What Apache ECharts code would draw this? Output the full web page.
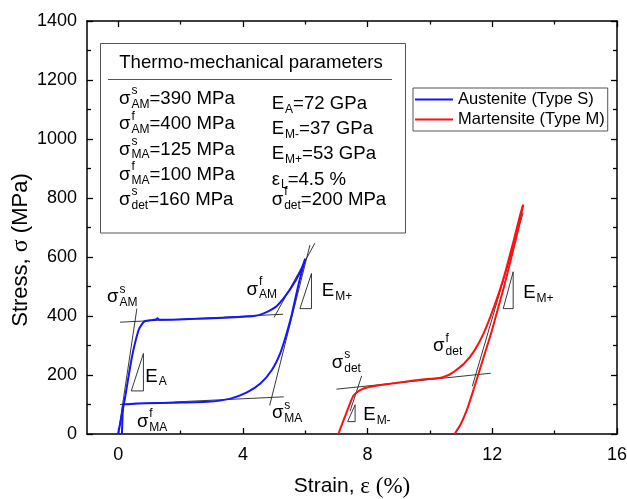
<!DOCTYPE html>
<html><head><meta charset="utf-8">
<script src="https://cdn.jsdelivr.net/npm/echarts@6/dist/echarts.min.js"></script>
<style>html,body{margin:0;padding:0;background:#fff}#c{width:627px;height:499px}</style>
</head><body><div id="c"></div>
<script>
const FONT = '"Liberation Sans", Arial, Helvetica, sans-serif';
const SERIF = '"Liberation Serif", "Times New Roman", serif';

// ---------- data ----------
const xTicksMajor = [0, 4, 8, 12, 16];
const xTicksMinor = [2, 6, 10, 14];
const seriesNames = ['Austenite (Type S)', 'Martensite (Type M)'];

const austeniteLoading = [[0,0],[0.22,123],[0.44,260],[0.65,351],[0.78,375],[0.87,383],[1.05,386],[1.2,388],[1.26,392],[1.32,387],[2.3,390],[3.4,394],[4.35,400],[4.67,409],[5.09,434],[5.52,491],[5.84,549],[6.0,594]];
const austeniteUnloading = [[6.0,594],[5.79,509],[5.57,406],[5.41,343],[5.2,274],[4.93,217],[4.56,171],[4.13,141],[3.6,120],[2.85,109],[1.8,106],[0.9,104],[0.3,101],[0.16,99],[0.14,60],[0.12,0]];
const martensiteLoading = [[7.06,0],[7.3,66],[7.54,129],[7.76,149],[8.08,160],[8.61,169],[9.2,177],[9.68,184],[10.35,191],[10.6,200],[10.77,211],[11.09,238],[11.41,280],[11.73,343],[12.05,429],[12.37,531],[12.69,657],[12.91,749],[12.99,777]];
const martensiteUnloading = [[12.99,777],[12.8,680],[12.59,589],[12.37,497],[12.16,417],[11.95,337],[11.68,246],[11.41,154],[11.2,86],[10.99,34],[10.79,0]];

// construction lines (strain %, stress MPa)
const tanAMs = [[0,0],[0.6,425]];
const plateauUpper = [[0.06,379],[5.29,406]];
const tanAMf = [[5.0,395],[6.31,647]];
const tanUnload = [[4.86,97],[6.15,640]];
const plateauLower = [[0.06,100],[5.31,126]];
const tanDets = [[7.44,78],[7.81,197]];
const plateauDet = [[7.0,152],[11.95,206]];
const tanDetf = [[11.36,162],[12.99,750]];
// slope triangles
const triEA = [[0.42,146],[0.81,146],[0.81,273],[0.42,146]];
const triEMpBlue = [[5.83,425],[6.2,425],[6.2,544],[5.83,425]];
const triEMpRed = [[12.35,425],[12.67,425],[12.67,550],[12.35,425]];
const triEMm = [[7.36,42],[7.6,42],[7.6,99],[7.36,42]];

// in-plot annotations: anchor (strain, stress) of main glyph's left/baseline
const annotationText = [
  ['σ',['s','AM']], ['σ',['f','AM']], ['E',[null,'M+']], ['E',[null,'A']], ['σ',['f','MA']],
  ['σ',['s','MA']], ['σ',['s','det']], ['E',[null,'M-']], ['σ',['f','det']], ['E',[null,'M+']]
];
const annotationAnchor = [[-0.36,443],[4.12,470],[6.53,464],[0.87,175],[0.6,21],[4.93,50],[6.85,221],[7.86,44],[10.1,277],[12.99,459]];

// parameter table
const paramTitle = 'Thermo-mechanical parameters';
const paramsLeft = [
  ['σ',['s','AM'],'=390 MPa'], ['σ',['f','AM'],'=400 MPa'], ['σ',['s','MA'],'=125 MPa'],
  ['σ',['f','MA'],'=100 MPa'], ['σ',['s','det'],'=160 MPa']
];
const paramsRight = [
  ['E',[null,'A'],'=72 GPa'], ['E',[null,'M-'],'=37 GPa'], ['E',[null,'M+'],'=53 GPa'],
  ['ε',[null,'L'],'=4.5 %'], ['σ',['f','det'],'=200 MPa']
];

// ---------- helpers ----------
const mctx = document.createElement('canvas').getContext('2d');
function tw(t, size){ mctx.font = size + 'px ' + FONT; return mctx.measureText(t).width; }
const MAIN = 18.6, SCR = 12, MID = 0.32;
function txt(x, yMid, t, size){
  return {type:'text', x:x, y:yMid, z:100, style:{text:t, fontSize:size, fontFamily:FONT, fill:'#000', align:'left', verticalAlign:'middle'}};
}
function richParts(x, base, parts){
  const out = []; let cx = x;
  parts.forEach(p => {
    if (typeof p === 'string') { out.push(txt(cx, base - MID*MAIN, p, MAIN)); cx += tw(p, MAIN); }
    else {
      const sup = p[0], sub = p[1]; let w = 0;
      if (sup) { out.push(txt(cx + 1, base - 10 - MID*SCR, sup, SCR)); w = Math.max(w, tw(sup, SCR) + 1); }
      if (sub) { out.push(txt(cx + 1, base + 3.5 - MID*SCR, sub, SCR)); w = Math.max(w, tw(sub, SCR) + 1); }
      cx += w;
    }
  });
  return out;
}
function guide(data){
  return {type:'line', data:data, symbol:'none', silent:true, lineStyle:{color:'#222', width:0.9}, z:3, animation:false};
}

// ---------- graphic (parameter box & y title) ----------
const graphics = [
  {type:'rect', shape:{x:100.5, y:43.5, width:305, height:189.5}, style:{fill:'#fff', stroke:'#555', lineWidth:1}, z:90},
  {type:'line', shape:{x1:108, y1:79.5, x2:392, y2:79.5}, style:{stroke:'#555', lineWidth:1}, z:91},
  {type:'text', x:251, y:69.3 - MID*MAIN, z:100, style:{text:paramTitle, fontSize:MAIN, fontFamily:FONT, fill:'#000', align:'center', verticalAlign:'middle'}},
  {type:'text', x:21, y:250, rotation:Math.PI/2, z:100, style:{text:'Stress, {s|σ} (MPa)', fontSize:22, fontFamily:FONT, fill:'#000', align:'center', verticalAlign:'middle', rich:{s:{fontFamily:SERIF, fontSize:24, fill:'#000'}}}}
];
const leftBase = [105, 130.3, 155.5, 180.8, 206];
const rightBase = [110, 135, 160, 185.5, 206];
paramsLeft.forEach((r,i) => richParts(119, leftBase[i], r).forEach(g => graphics.push(g)));
paramsRight.forEach((r,i) => richParts(271.7, rightBase[i], r).forEach(g => graphics.push(g)));

// ---------- chart ----------
const chart = echarts.init(document.getElementById('c'), null, {renderer:'canvas'});
const axisLine = {show:true, onZero:false, lineStyle:{color:'#000', width:1.5}};
const noLine = {show:false, onZero:false};
const tickStyle = {color:'#000', width:1.3};
const xBase = {type:'value', min:-1, max:16, splitLine:{show:false}, gridIndex:0};
const yBase = {type:'value', min:0, max:1400, interval:200, splitLine:{show:false}, gridIndex:0,
  axisTick:{show:true, inside:true, length:6, lineStyle:tickStyle},
  minorTick:{show:true, splitNumber:2, length:4, lineStyle:tickStyle}};
chart.setOption({
  animation:false,
  backgroundColor:'#fff',
  grid:{left:87, right:10, top:21, bottom:65, containLabel:false, outerBoundsMode:'none'},
  legend:{
    data:seriesNames.map(n => ({name:n, icon:'rect'})), orient:'vertical', left:413, top:88,
    itemWidth:38, itemHeight:2, itemGap:3, padding:[3,3,3,2],
    borderColor:'#555', borderWidth:1, backgroundColor:'#fff',
    textStyle:{fontSize:16.5, fontFamily:FONT, color:'#000', lineHeight:17}
  },
  xAxis:[
    Object.assign({}, xBase, {position:'bottom', axisLine:axisLine,
      axisTick:{show:true, inside:true, length:6, customValues:xTicksMajor, lineStyle:tickStyle},
      axisLabel:{show:true, customValues:xTicksMajor, fontSize:18, fontFamily:FONT, color:'#000', margin:12},
      name:'Strain, {s|ε (%)}', nameLocation:'middle', nameGap:41,
      nameTextStyle:{fontSize:21, fontFamily:FONT, color:'#000', rich:{s:{fontFamily:SERIF, fontSize:23, color:'#000'}}}}),
    Object.assign({}, xBase, {position:'bottom', axisLine:noLine,
      axisTick:{show:true, inside:true, length:3.5, customValues:xTicksMinor, lineStyle:tickStyle},
      axisLabel:{show:false}}),
    Object.assign({}, xBase, {position:'top', axisLine:axisLine,
      axisTick:{show:true, inside:true, length:6, customValues:xTicksMajor, lineStyle:tickStyle},
      axisLabel:{show:false}}),
    Object.assign({}, xBase, {position:'top', axisLine:noLine,
      axisTick:{show:true, inside:true, length:3.5, customValues:xTicksMinor, lineStyle:tickStyle},
      axisLabel:{show:false}})
  ],
  yAxis:[
    Object.assign({}, yBase, {position:'left', axisLine:axisLine,
      axisLabel:{fontSize:18, fontFamily:FONT, color:'#000', margin:10, formatter:v => String(v)}}),
    Object.assign({}, yBase, {position:'right', axisLine:axisLine, axisLabel:{show:false}})
  ],
  series:[
    {name:seriesNames[0], type:'line', data:austeniteLoading, symbol:'none', smooth:0.2, color:'#1414ff', lineStyle:{width:2}, z:5},
    {name:seriesNames[0], type:'line', data:austeniteUnloading, symbol:'none', smooth:0.2, color:'#1414ff', lineStyle:{width:2}, z:5},
    {name:seriesNames[1], type:'line', data:martensiteLoading, symbol:'none', smooth:0.2, color:'#ff0f0f', lineStyle:{width:2}, z:5},
    {name:seriesNames[1], type:'line', data:martensiteUnloading, symbol:'none', smooth:0.2, color:'#ff0f0f', lineStyle:{width:2}, z:5},
    guide(tanAMs), guide(plateauUpper), guide(tanAMf), guide(tanUnload), guide(plateauLower),
    guide(tanDets), guide(plateauDet), guide(tanDetf),
    guide(triEA), guide(triEMpBlue), guide(triEMpRed), guide(triEMm),
    {type:'custom', coordinateSystem:'cartesian2d', data:annotationAnchor, silent:true, clip:false, z:10,
      encode:{x:0, y:1},
      renderItem:function(params, api){
        const p = api.coord([api.value(0), api.value(1)]);
        return {type:'group', children:richParts(p[0], p[1], annotationText[params.dataIndex])};
      }}
  ],
  graphic:graphics
});
</script></body></html>
